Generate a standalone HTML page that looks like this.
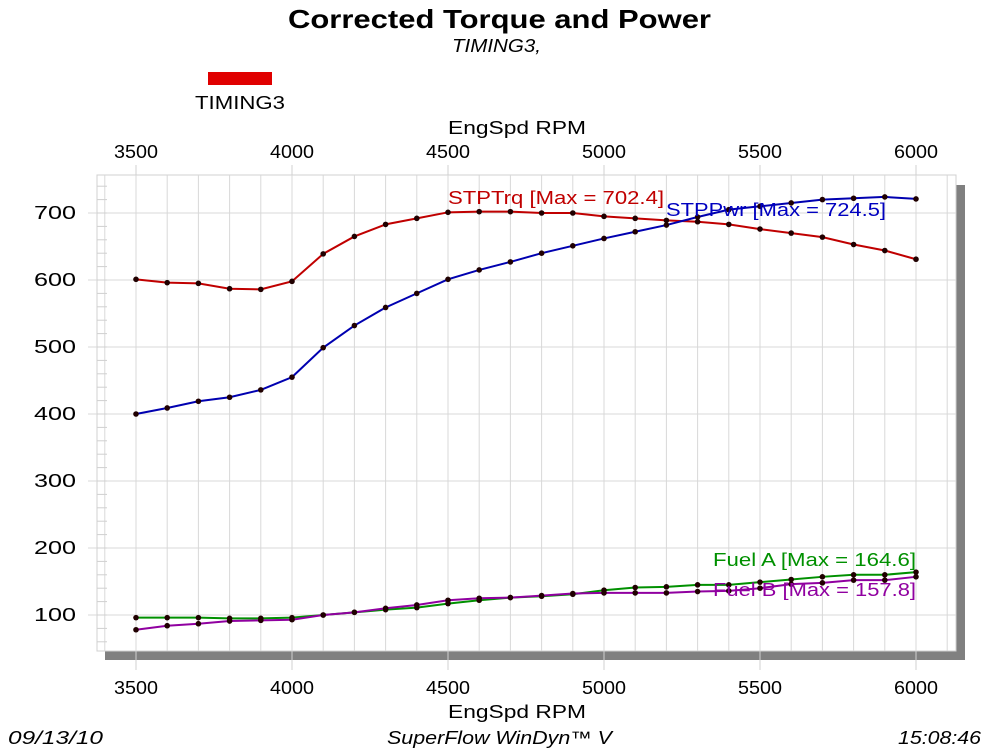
<!DOCTYPE html>
<html><head><meta charset="utf-8"><style>
body{margin:0;background:#fff;width:1000px;height:749px;overflow:hidden;font-family:"Liberation Sans",sans-serif}
</style></head><body>
<svg id="s" width="1000" height="749" xmlns="http://www.w3.org/2000/svg" font-family="Liberation Sans, sans-serif">
<text x="288" y="28" font-size="26" font-weight="bold" textLength="423" lengthAdjust="spacingAndGlyphs">Corrected Torque and Power</text>
<text x="452" y="52" font-size="18" font-style="italic" textLength="89" lengthAdjust="spacingAndGlyphs">TIMING3,</text>
<rect x="208" y="72" width="64" height="13" fill="#e00000"/>
<text x="195" y="109" font-size="18" textLength="90" lengthAdjust="spacingAndGlyphs">TIMING3</text>
<text x="448" y="134" font-size="18" textLength="138" lengthAdjust="spacingAndGlyphs">EngSpd  RPM</text>
<text x="448" y="718" font-size="18" textLength="138" lengthAdjust="spacingAndGlyphs">EngSpd  RPM</text>
<text x="8" y="744" font-size="18" font-style="italic" textLength="95" lengthAdjust="spacingAndGlyphs">09/13/10</text>
<text x="387" y="744" font-size="18" font-style="italic" textLength="225" lengthAdjust="spacingAndGlyphs">SuperFlow WinDyn™ V</text>
<text x="898" y="744" font-size="18" font-style="italic" textLength="83" lengthAdjust="spacingAndGlyphs">15:08:46</text>
<rect x="956" y="185" width="9" height="475" fill="#808080"/>
<rect x="105" y="651" width="860" height="9" fill="#808080"/>
<rect x="97" y="175" width="859" height="476" fill="#fff" stroke="#d0d0d0"/>
<g id="g"></g>
</svg>
<script>
const g=document.getElementById('g');let h='';
const X=r=>136+(r-3500)*0.312, Y=v=>615-(v-100)*0.67;
for(let r=3400;r<=6100;r+=100){const x=X(r);h+=`<line x1="${x}" y1="175" x2="${x}" y2="651" stroke="#d8d8d8"/>`;}
for(let r=3500;r<=6000;r+=500){const x=X(r);h+=`<line x1="${x}" y1="165" x2="${x}" y2="175" stroke="#d0d0d0"/><line x1="${x}" y1="651" x2="${x}" y2="670" stroke="#d0d0d0"/>
<text x="${x-22}" y="158" font-size="18" textLength="44" lengthAdjust="spacingAndGlyphs">${r}</text><text x="${x-22}" y="694" font-size="18" textLength="44" lengthAdjust="spacingAndGlyphs">${r}</text>`;}
for(let v=100;v<=700;v+=100){const y=Y(v);h+=`<line x1="88" y1="${y}" x2="956" y2="${y}" stroke="#d8d8d8"/><text x="34" y="${y+6}" font-size="18" textLength="42" lengthAdjust="spacingAndGlyphs">${v}</text>`;}
for(let v=60;v<=740;v+=20){const y=Y(v);h+=`<line x1="97" y1="${y}" x2="107" y2="${y}" stroke="#d0d0d0"/>`;}
const S=[
["#c00000",[601,596,595,587,586,598,639,665,683,692,701,702,702,700,700,695,692,689,687,683,676,670,664,653,644,631]],
["#0000b0",[400,409,419,425,436,455,499,532,559,580,601,615,627,640,651,662,672,682,694,705,710,715,720,722,724,721]],
["#009000",[96,96,96,95,95,96,100,104,108,111,117,122,126,128,131,137,141,142,145,145,149,153,157,160,160,164]],
["#9000a0",[78,84,87,91,92,93,100,104,110,115,122,125,126,129,132,133,133,133,135,136,140,146,148,152,152,157]]];
for(const [c,d] of S){let p=d.map((v,i)=>X(3500+i*100)+','+Y(v)).join(' ');
h+=`<polyline points="${p}" fill="none" stroke="${c}" stroke-width="2"/>`;
d.forEach((v,i)=>h+=`<circle cx="${X(3500+i*100)}" cy="${Y(v)}" r="2.8" fill="#200000"/>`);}
h+=`<text x="448" y="204" font-size="18" fill="#c00000" textLength="216" lengthAdjust="spacingAndGlyphs">STPTrq [Max = 702.4]</text>
<text x="666" y="216" font-size="18" fill="#0000c0" textLength="220" lengthAdjust="spacingAndGlyphs">STPPwr [Max = 724.5]</text>
<text x="713" y="566" font-size="18" fill="#009000" textLength="203" lengthAdjust="spacingAndGlyphs">Fuel A [Max = 164.6]</text>
<text x="713" y="596" font-size="18" fill="#9000a0" textLength="203" lengthAdjust="spacingAndGlyphs">Fuel B [Max = 157.8]</text>`;
g.innerHTML=h;
</script>
</body></html>
